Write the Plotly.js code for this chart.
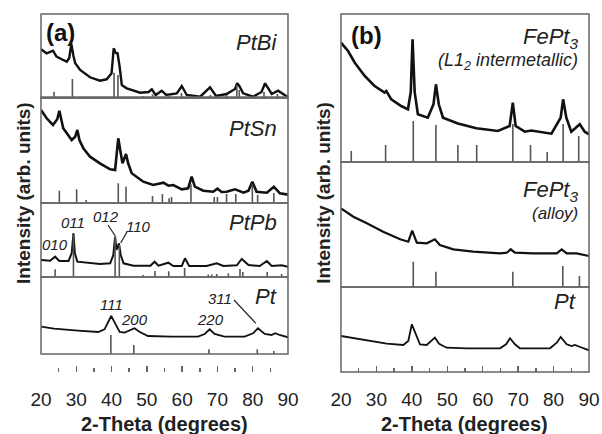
<!DOCTYPE html>
<html><head><meta charset="utf-8">
<script src="https://cdn.plot.ly/plotly-3.0.1.min.js"></script>
<style>html,body{margin:0;padding:0;background:#fff}#chart{width:602px;height:434px}</style>
</head><body><div id="chart"></div>
<script>
// ---------- DATA (2-Theta in degrees, intensity in arbitrary units) ----------
const tickVals = [20, 30, 40, 50, 60, 70, 80, 90];

// Panel (a): PtBi
const ptbiX = [20.0,21.6,23.4,24.4,26.0,27.3,28.0,28.6,29.2,29.7,31.1,33.9,36.7,38.6,40.0,40.6,41.2,41.7,42.3,42.9,44.3,48.1,50.5,51.4,52.5,54.2,55.5,58.5,59.9,61.3,65.1,67.9,69.6,72.6,75.0,75.6,76.2,77.3,80.1,82.5,83.5,85.4,87.2,90.0];
const ptbiY = [48.7,44.7,47.3,41.3,38.5,36.3,40.0,54.0,42.0,34.7,28.0,20.7,17.3,18.7,24.7,49.7,45.0,44.7,31.0,13.0,9.7,5.3,6.0,8.7,3.0,7.3,3.0,4.5,12.0,3.0,1.3,10.7,2.0,4.0,9.0,14.7,12.0,4.7,1.3,6.0,14.7,4.0,7.3,0.7];
const ptbiStickX = [23.7,28.9,40.7,41.8,49.0,51.6,56.1,59.8,68.0,72.6,75.5,76.2,83.2,87.0];
const ptbiStickY = [6.3,19,25.3,23,2,3.7,3,5,3,3,13,8,6,4];

// Panel (a): PtSn
const ptsnX = [20.0,21.6,23.4,24.6,25.2,25.8,26.3,28.7,29.7,30.3,30.9,32.0,33.9,36.7,39.6,41.0,41.4,41.9,42.6,43.1,44.1,44.7,45.7,49.0,51.8,54.7,56.1,57.5,59.9,61.7,62.7,63.6,66.0,68.8,70.0,71.2,72.6,75.0,77.4,78.8,79.9,81.1,84.0,86.0,87.7,90.0];
const ptsnY = [93,84.7,78,83.7,92.3,83,74.7,63,66.3,73,63,54.7,46.3,39.7,33.7,33,46.3,64.7,49.7,39.7,49,39.7,29.7,21.3,18,20.3,17.3,18,13.7,14.7,26.3,16.3,12.3,11.3,14.3,11,11.3,13.7,10.3,12.3,21.3,11.3,10.3,16.3,9.7,8.3];
const ptsnStickX = [25.2,30.1,32.8,41.9,44.1,51.6,54.4,56.3,57.0,62.5,69.1,70.0,72.6,75.2,79.9,81.4,86.0];
const ptsnStickY = [12.3,13.7,3,19.7,16.3,7,9,4.7,6,18.7,6,6,9,9,18.7,8,10];

// Panel (a): PtPb
const ptpbX = [20.0,22.6,24.0,25.2,27.8,28.7,29.2,29.6,30.3,33.5,36.7,39.6,40.5,41.0,41.4,42.1,42.6,43.4,46.2,51.0,52.2,53.3,56.1,57.5,59.9,60.8,62.0,66.9,69.8,71.7,73.6,75.5,76.9,78.8,82.0,84.0,85.4,88.2,90.0];
const ptpbY = [17,16.3,20.3,16,16,23.7,43.7,23.7,15.3,14,13,13.7,22,40.3,27,33.7,22,13.7,11.3,11.3,15.3,11.3,14.3,11,11,18.7,11,11,13.7,11,11.3,11.7,18,12,11,16,11,11.8,10.3];
const ptpbStickX = [24.0,29.2,41.0,42.2,49.0,52.3,56.2,60.7,67.4,68.4,69.8,73.1,76.4,77.2,84.1,88.2];
const ptpbStickY = [7.7,42,40,32,2,6,5.7,9,2.5,2.5,3,3.5,8,5,5,3];

// Panel (a): Pt
const ptAX = [20.0,23.7,30.5,36.2,38.0,39.0,39.9,40.9,42.3,43.7,45.6,46.5,47.9,50.3,56.9,64.5,66.4,67.8,69.2,72.0,77.7,80.1,81.5,83.4,85.3,86.4,87.6,90.0];
const ptAY = [27.3,25.3,23.3,22,24.7,32.3,38,31.3,22,21.3,24,25.7,22.3,18,17.3,17.3,20,24.7,20,17.3,17.3,20.7,25.7,20,19,20.7,19,16.7];
const ptStickX = [39.8,46.3,67.6,81.3,86.0];
const ptStickY = [19,9,4.7,4.7,3];

// Panel (b): FePt3 (L1_2 intermetallic)
const l12X = [20.0,22.0,23.9,26.7,29.5,32.3,32.8,34.2,37.0,38.9,39.7,40.2,40.8,41.7,44.5,46.1,46.8,47.6,48.8,52.1,53.0,58.2,64.3,67.6,68.5,69.3,71.9,73.7,79.4,82.0,82.7,83.6,85.0,87.4,88.8,90.0];
const l12Y = [119.3,111,99.3,86,76,69.3,71,62.7,56,52.7,70,122.7,70,47.7,44.3,57.7,77.7,57.7,44.3,39.3,38.5,33.7,31,36,59.3,36,30.3,31.5,28.3,44.3,62.7,44.3,30.3,37.7,30.3,27.7];
const l12StickX = [22.9,32.6,40.4,46.8,53.0,58.3,68.5,73.5,78.2,82.7,87.1];
const l12StickY = [11,17,41,37,17,17,38,17,10,38,26];

// Panel (b): FePt3 (alloy)
const alloyX = [20.0,23.5,27.3,31.9,36.7,39.0,40.1,41.4,44.2,46.5,47.9,51.7,57.3,64.9,66.8,67.9,69.1,74.3,80.9,82.3,83.7,86.5,90.0];
const alloyY = [78.7,70.3,63.7,55.3,47.7,45.3,56.3,44.3,43.7,47.7,42,37.7,35.3,33.7,34.3,37.7,34.3,33.7,33.7,37.7,33.7,33.7,31];
const fccStickX = [40.4,46.8,68.5,82.6,87.3];
const fccStickY = [25.3,15.3,15.3,21,11];

// Panel (b): Pt
const ptBX = [20.0,27.3,32.9,37.6,39.0,40.0,41.2,42.3,44.2,45.6,46.5,47.7,49.8,55.5,64.9,66.6,67.7,69.1,70.5,79.0,80.9,82.0,83.7,85.1,86.0,87.5,90.0];
const ptBY = [36,31.7,28.3,27,31,47.7,37.7,27.7,27,31,34.3,28.3,24.3,23.7,23.7,27.7,33.7,27.7,23.7,23.7,29.3,35,27.7,26,27,25,21.7];

// ---------- BUILD ----------
function sticks(pos, h) {
  const x = [], y = [];
  pos.forEach((p, i) => { x.push(p, p, null); y.push(0, h[i], null); });
  return {x, y};
}
const ink = '#111';
const stickCol = '#555';
function curve(x, y, xa, ya, w) {
  return {type: 'scatter', mode: 'lines', x, y, xaxis: xa, yaxis: ya,
          line: {color: ink, width: w}, hoverinfo: 'skip', showlegend: false, cliponaxis: true};
}
function stickTrace(pos, h, xa, ya) {
  const s = sticks(pos, h);
  return {type: 'scatter', mode: 'lines', x: s.x, y: s.y, xaxis: xa, yaxis: ya, connectgaps: false,
          line: {color: stickCol, width: 1.6}, hoverinfo: 'skip', showlegend: false};
}
const data = [
  curve(ptbiX, ptbiY, 'x', 'y', 2.4), stickTrace(ptbiStickX, ptbiStickY, 'x', 'y'),
  curve(ptsnX, ptsnY, 'x', 'y2', 2.6), stickTrace(ptsnStickX, ptsnStickY, 'x', 'y2'),
  curve(ptpbX, ptpbY, 'x', 'y3', 2.0), stickTrace(ptpbStickX, ptpbStickY, 'x', 'y3'),
  curve(ptAX, ptAY, 'x', 'y4', 1.8), stickTrace(ptStickX, ptStickY, 'x', 'y4'),
  curve(l12X, l12Y, 'x2', 'y6', 2.6), stickTrace(l12StickX, l12StickY, 'x2', 'y6'),
  curve(alloyX, alloyY, 'x2', 'y7', 2.2), stickTrace(fccStickX, fccStickY, 'x2', 'y7'),
  curve(ptBX, ptBY, 'x2', 'y8', 1.8)
];

const FONT = 'Arial, "Liberation Sans", sans-serif';
const frameCol = '#666';
function yax(domain, range, anchor) {
  return {domain, range, anchor, visible: false, fixedrange: true, showgrid: false, zeroline: false};
}
function xax(domain) {
  return {domain, anchor: 'free', position: 0, range: [20, 90], tickvals: tickVals, ticktext: tickVals.map(String),
          ticks: 'inside', ticklen: 6, tickwidth: 1.5, tickcolor: frameCol, ticklabelstandoff: 14,
          minor: {ticks: 'inside', ticklen: 4, tickwidth: 1.5, tickcolor: frameCol, dtick: 5, tick0: 20, showgrid: false},
          showline: false, showgrid: false, zeroline: false, fixedrange: true,
          tickfont: {family: FONT, size: 19, color: '#222'}};
}
const frames = [['x','y'],['x','y2'],['x','y3'],['x','y4'],['x','y5'],['x2','y6'],['x2','y7'],['x2','y8']]
  .map(([xa, ya]) => ({type: 'rect', xref: xa + ' domain', yref: ya + ' domain', x0: 0, x1: 1, y0: 0, y1: 1,
                       line: {color: frameCol, width: 1.5}, layer: 'above'}));
function lead(ya, xa, x0, y0, x1, y1) {
  return {type: 'line', xref: xa, yref: ya, x0, y0, x1, y1, line: {color: '#222', width: 1.2}};
}
const shapes = frames.concat([
  lead('y4', 'x', 74.7, 54, 80.9, 30.7),
  lead('y3', 'x', 39.0, 52, 41.05, 41),
  lead('y3', 'x', 44.4, 45.3, 42.6, 34)
]);

function nameAnn(text, xa, ya, x, y, size) {
  return {text, xref: xa + ' domain', yref: ya + ' domain', x, y, xanchor: 'right', yanchor: 'middle',
          showarrow: false, font: {family: FONT, size, color: '#222'}};
}
function idx(text, xa, ya, x, y) {
  return {text, xref: xa, yref: ya, x, y, xanchor: 'center', yanchor: 'middle', showarrow: false,
          font: {family: FONT, size: 15, color: '#222'}};
}
const annotations = [
  nameAnn('<i>PtBi</i>', 'x', 'y', 0.965, 0.655, 22),
  nameAnn('<i>PtSn</i>', 'x', 'y2', 0.965, 0.714, 22),
  nameAnn('<i>PtPb</i>', 'x', 'y3', 0.965, 0.73, 22),
  nameAnn('<i>Pt</i>', 'x', 'y4', 0.965, 0.747, 22),
  nameAnn('<i>FePt<sub>3</sub></i>', 'x2', 'y6', 0.964, 0.84, 22),
  nameAnn('<i>(L1<sub>2</sub> intermetallic)</i>', 'x2', 'y6', 0.964, 0.68, 18),
  nameAnn('<i>FePt<sub>3</sub></i>', 'x2', 'y7', 0.964, 0.77, 22),
  nameAnn('<i>(alloy)</i>', 'x2', 'y7', 0.964, 0.59, 17),
  nameAnn('<i>Pt</i>', 'x2', 'y8', 0.955, 0.827, 22),
  {text: '<b>(a)</b>', xref: 'x domain', yref: 'y domain', x: 0.012, y: 0.774, xanchor: 'left', yanchor: 'middle',
   showarrow: false, font: {family: FONT, size: 24, color: '#111'}},
  {text: '<b>(b)</b>', xref: 'x2 domain', yref: 'y6 domain', x: 0.032, y: 0.858, xanchor: 'left', yanchor: 'middle',
   showarrow: false, font: {family: FONT, size: 24, color: '#111'}},
  idx('<i>010</i>', 'x', 'y3', 24.0, 32),
  idx('<i>011</i>', 'x', 'y3', 29.0, 54),
  idx('<i>012</i>', 'x', 'y3', 38.5, 60.3),
  idx('<i>110</i>', 'x', 'y3', 47.5, 50.3),
  idx('<i>111</i>', 'x', 'y4', 40.1, 49),
  idx('<i>200</i>', 'x', 'y4', 46.6, 34.7),
  idx('<i>220</i>', 'x', 'y4', 67.9, 34.7),
  idx('<i>311</i>', 'x', 'y4', 70.6, 55.7),
  {text: '<b>Intensity (arb. units)</b>', xref: 'paper', yref: 'paper', x: -0.033, y: 0.5, textangle: -90,
   xanchor: 'center', yanchor: 'middle', showarrow: false, font: {family: FONT, size: 19, color: '#222'}},
  {text: '<b>Intensity (arb. units)</b>', xref: 'paper', yref: 'paper', x: 0.514, y: 0.5, textangle: -90,
   xanchor: 'center', yanchor: 'middle', showarrow: false, font: {family: FONT, size: 19, color: '#222'}},
  {text: '<b>2-Theta (degrees)</b>', xref: 'x domain', yref: 'paper', x: 0.5, y: -0.145,
   xanchor: 'center', yanchor: 'middle', showarrow: false, font: {family: FONT, size: 20, color: '#222'}},
  {text: '<b>2-Theta (degrees)</b>', xref: 'x2 domain', yref: 'paper', x: 0.5, y: -0.145,
   xanchor: 'center', yanchor: 'middle', showarrow: false, font: {family: FONT, size: 20, color: '#222'}}
];

const layout = {
  width: 602, height: 434,
  margin: {l: 41, r: 13, t: 14, b: 62, pad: 0},
  paper_bgcolor: '#fff', plot_bgcolor: '#fff',
  showlegend: false,
  font: {family: FONT, color: '#222'},
  xaxis: xax([0, 0.4507]),
  xaxis2: xax([0.5474, 1]),
  yaxis: yax([0.7654, 1], [0, 84], 'x'),
  yaxis2: yax([0.4721, 0.7654], [0, 105], 'x'),
  yaxis3: yax([0.2654, 0.4721], [0, 74], 'x'),
  yaxis4: yax([0.0503, 0.2654], [0, 77], 'x'),
  yaxis5: yax([0, 0.0503], [0, 18], 'x'),
  yaxis6: yax([0.5866, 1], [0, 148], 'x2'),
  yaxis7: yax([0.2374, 0.5866], [0, 125], 'x2'),
  yaxis8: yax([0, 0.2374], [0, 85], 'x2'),
  shapes, annotations
};
Plotly.newPlot('chart', data, layout, {staticPlot: true, displayModeBar: false});
</script></body></html>
